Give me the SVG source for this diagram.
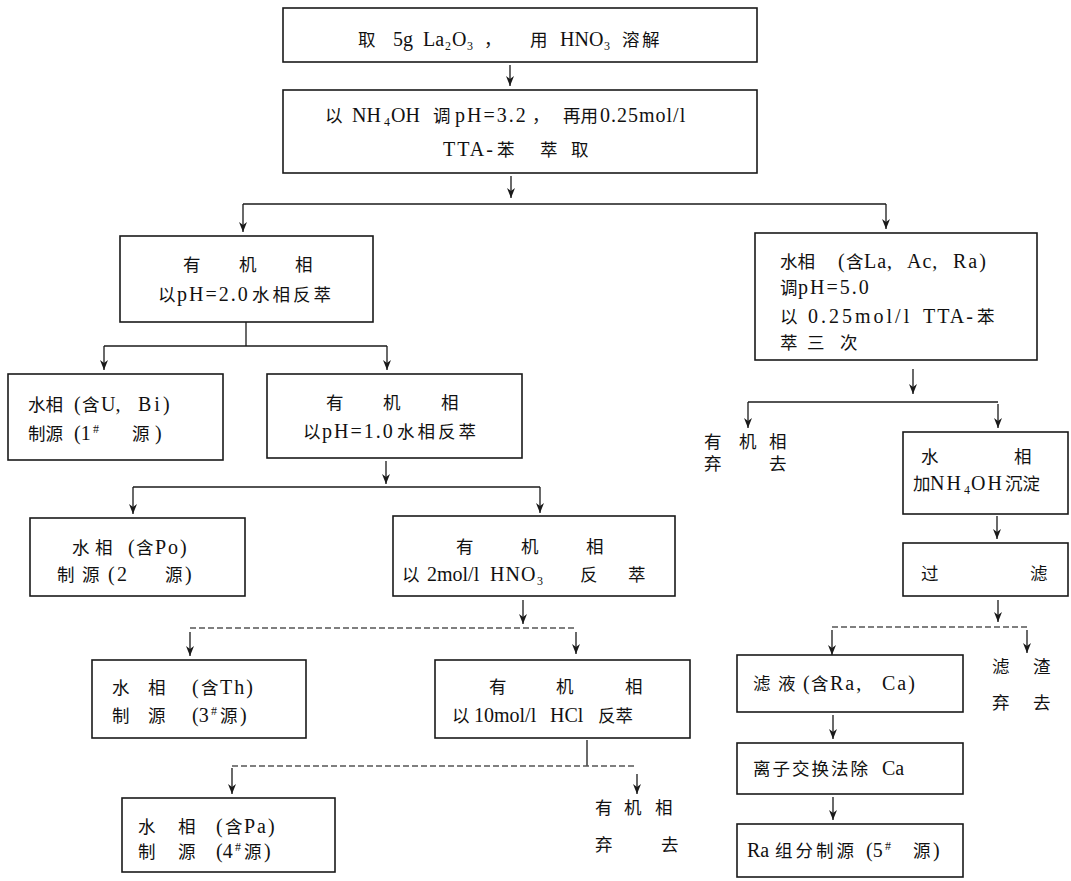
<svg xmlns="http://www.w3.org/2000/svg" width="1071" height="881" viewBox="0 0 1071 881">
<style>
.b{fill:none;stroke:#1a1a1a;stroke-width:1.6}
.c{fill:none;stroke:#1a1a1a;stroke-width:1.3}
.f{stroke:#555;stroke-dasharray:6 3}
text{font-family:"Liberation Serif","Noto Sans CJK SC",serif;font-size:17.5px;fill:#111;white-space:pre}
.L{font-size:20px}
.s{font-size:12px}
.w2{letter-spacing:2px}
.w3{letter-spacing:3px}
.w1{letter-spacing:1px}
</style>
<defs>
<marker id="ah" markerUnits="userSpaceOnUse" markerWidth="10" markerHeight="8" refX="10" refY="4" orient="auto">
<path d="M0,0 L10,4 L0,8 L3,4 z" fill="#1a1a1a"/>
</marker>
</defs>
<rect width="1071" height="881" fill="#ffffff"/>

<g id="connectors">
<line class="c" x1="510" y1="65" x2="510" y2="86" marker-end="url(#ah)"/>
<line class="c" x1="511" y1="176" x2="511" y2="198" marker-end="url(#ah)"/>
<line class="c" x1="243" y1="204" x2="886" y2="204"/>
<line class="c" x1="243" y1="204" x2="243" y2="232" marker-end="url(#ah)"/>
<line class="c" x1="886" y1="204" x2="886" y2="229" marker-end="url(#ah)"/>
<line class="c" x1="246" y1="322" x2="246" y2="346"/>
<line class="c" x1="104" y1="346" x2="387" y2="346"/>
<line class="c" x1="104" y1="346" x2="104" y2="370" marker-end="url(#ah)"/>
<line class="c" x1="387" y1="346" x2="387" y2="370" marker-end="url(#ah)"/>
<line class="c" x1="386" y1="461" x2="386" y2="484" marker-end="url(#ah)"/>
<line class="c" x1="133" y1="487" x2="540" y2="487"/>
<line class="c" x1="133" y1="487" x2="133" y2="514" marker-end="url(#ah)"/>
<line class="c" x1="540" y1="487" x2="540" y2="513" marker-end="url(#ah)"/>
<line class="c" x1="523" y1="600" x2="523" y2="624" marker-end="url(#ah)"/>
<line class="c f" x1="190" y1="628" x2="576" y2="628"/>
<line class="c" x1="190" y1="632" x2="190" y2="656" marker-end="url(#ah)"/>
<line class="c" x1="576" y1="632" x2="576" y2="654" marker-end="url(#ah)"/>
<line class="c" x1="587" y1="740" x2="587" y2="766"/>
<line class="c f" x1="232" y1="766" x2="637" y2="766"/>
<line class="c" x1="232" y1="768" x2="232" y2="794" marker-end="url(#ah)"/>
<line class="c" x1="637" y1="774" x2="637" y2="794" marker-end="url(#ah)"/>
<line class="c" x1="913" y1="369" x2="913" y2="394" marker-end="url(#ah)"/>
<line class="c" x1="748" y1="402" x2="998" y2="402"/>
<line class="c" x1="748" y1="402" x2="748" y2="428" marker-end="url(#ah)"/>
<line class="c" x1="998" y1="404" x2="998" y2="428" marker-end="url(#ah)"/>
<line class="c" x1="997" y1="516" x2="997" y2="539" marker-end="url(#ah)"/>
<line class="c" x1="998" y1="600" x2="998" y2="622" marker-end="url(#ah)"/>
<line class="c f" x1="832" y1="627" x2="1027" y2="627"/>
<line class="c" x1="832" y1="630" x2="832" y2="655" marker-end="url(#ah)"/>
<line class="c" x1="1027" y1="630" x2="1027" y2="653" marker-end="url(#ah)"/>
<line class="c" x1="833" y1="715" x2="833" y2="739" marker-end="url(#ah)"/>
<line class="c" x1="833" y1="797" x2="833" y2="820" marker-end="url(#ah)"/>
</g>

<g id="n1">
<rect class="b" x="283" y="8" width="474" height="54"/>
<text y="46"><tspan x="358">取</tspan><tspan class="L" x="393">5g</tspan><tspan class="L" x="423">La</tspan><tspan class="s" x="445" y="50">2</tspan><tspan class="L" x="452" y="46">O</tspan><tspan class="s" x="467" y="50">3</tspan><tspan x="484" y="46">，</tspan><tspan x="530">用</tspan><tspan class="L" x="560">HNO</tspan><tspan class="s" x="604" y="50">3</tspan><tspan x="622" y="46">溶</tspan><tspan x="642">解</tspan></text>
</g>

<g id="n2">
<rect class="b" x="283" y="90" width="474" height="83"/>
<text y="122"><tspan x="325">以</tspan><tspan class="L" x="352">NH</tspan><tspan class="s" x="384" y="126">4</tspan><tspan class="L" x="391" y="122">OH</tspan><tspan x="433">调</tspan><tspan class="L w2" x="455">pH=3.2</tspan><tspan x="532">，</tspan><tspan x="563">再用</tspan><tspan class="L w1" x="600">0.25mol/l</tspan></text>
<text y="156"><tspan class="L w2" x="443">TTA-</tspan><tspan x="497">苯</tspan><tspan x="540">萃</tspan><tspan x="571">取</tspan></text>
</g>

<g id="n3">
<rect class="b" x="120" y="236" width="253" height="86"/>
<text y="271"><tspan x="183">有</tspan><tspan x="239">机</tspan><tspan x="295">相</tspan></text>
<text y="301"><tspan x="158">以</tspan><tspan class="L w2" x="177">pH=2.0</tspan><tspan class="w3" x="252">水相反萃</tspan></text>
</g>

<g id="n4">
<rect class="b" x="8" y="374" width="215" height="86"/>
<text y="411"><tspan x="28">水相</tspan><tspan class="L" x="74">(</tspan><tspan x="82">含</tspan><tspan class="L" x="101">U,</tspan><tspan class="L w3" x="138">Bi)</tspan></text>
<text y="440"><tspan x="28">制源</tspan><tspan class="L" x="74">(1</tspan><tspan class="s" x="93" y="433">#</tspan><tspan x="132" y="440">源</tspan><tspan class="L" x="155">)</tspan></text>
</g>

<g id="n5">
<rect class="b" x="267" y="374" width="255" height="84"/>
<text y="409"><tspan x="326">有</tspan><tspan x="383">机</tspan><tspan x="441">相</tspan></text>
<text y="438"><tspan x="303">以</tspan><tspan class="L w2" x="322">pH=1.0</tspan><tspan class="w3" x="397">水相反萃</tspan></text>
</g>

<g id="n6">
<rect class="b" x="30" y="518" width="215" height="78"/>
<text y="554"><tspan x="72">水</tspan><tspan x="95">相</tspan><tspan class="L" x="128">(</tspan><tspan x="136">含</tspan><tspan class="L w2" x="155">Po)</tspan></text>
<text y="581"><tspan x="57">制</tspan><tspan x="82">源</tspan><tspan class="L" x="108">(</tspan><tspan class="L" x="117">2</tspan><tspan x="165">源</tspan><tspan class="L" x="185">)</tspan></text>
</g>

<g id="n7">
<rect class="b" x="393" y="516" width="282" height="80"/>
<text y="553"><tspan x="456">有</tspan><tspan x="521">机</tspan><tspan x="586">相</tspan></text>
<text y="581"><tspan x="402">以</tspan><tspan class="L" x="427">2mol/l</tspan><tspan class="L w1" x="490">HNO</tspan><tspan class="s" x="537" y="585">3</tspan><tspan x="580" y="581">反</tspan><tspan x="628">萃</tspan></text>
</g>

<g id="n8">
<rect class="b" x="92" y="660" width="214" height="78"/>
<text y="694"><tspan x="112">水</tspan><tspan x="148">相</tspan><tspan class="L" x="192">(</tspan><tspan x="201">含</tspan><tspan class="L w2" x="220">Th)</tspan></text>
<text y="722"><tspan x="112">制</tspan><tspan x="148">源</tspan><tspan class="L" x="192">(3</tspan><tspan class="s" x="211" y="715">#</tspan><tspan x="220" y="722">源</tspan><tspan class="L" x="240">)</tspan></text>
</g>

<g id="n9">
<rect class="b" x="435" y="660" width="255" height="78"/>
<text y="693"><tspan x="489">有</tspan><tspan x="556">机</tspan><tspan x="625">相</tspan></text>
<text y="722"><tspan x="452">以</tspan><tspan class="L" x="474">10mol/l</tspan><tspan class="L" x="550">HCl</tspan><tspan x="598">反萃</tspan></text>
</g>

<g id="n10">
<rect class="b" x="122" y="798" width="213" height="74"/>
<text y="833"><tspan x="138">水</tspan><tspan x="178">相</tspan><tspan class="L" x="216">(</tspan><tspan x="225">含</tspan><tspan class="L w2" x="244">Pa)</tspan></text>
<text y="858"><tspan x="138">制</tspan><tspan x="178">源</tspan><tspan class="L" x="216">(4</tspan><tspan class="s" x="235" y="851">#</tspan><tspan x="244" y="858">源</tspan><tspan class="L" x="264">)</tspan></text>
</g>

<g id="n11">
<text y="814"><tspan x="595">有</tspan><tspan x="624">机</tspan><tspan x="655">相</tspan></text>
<text y="851"><tspan x="595">弃</tspan><tspan x="661">去</tspan></text>
</g>

<g id="n12">
<rect class="b" x="755" y="233" width="282" height="127"/>
<text y="268"><tspan x="780">水相</tspan><tspan class="L" x="838">(</tspan><tspan x="846">含</tspan><tspan class="L w1" x="864">La,</tspan><tspan class="L w1" x="907">Ac,</tspan><tspan class="L w2" x="953">Ra)</tspan></text>
<text y="294"><tspan x="780">调</tspan><tspan class="L w2" x="798">pH=5.0</tspan></text>
<text y="323"><tspan x="780">以</tspan><tspan class="L w3" x="808">0.25mol/l</tspan><tspan class="L w2" x="923">TTA-</tspan><tspan x="977">苯</tspan></text>
<text y="349"><tspan x="780">萃</tspan><tspan x="807">三</tspan><tspan x="840">次</tspan></text>
</g>

<g id="n13">
<text y="448"><tspan x="704">有</tspan><tspan x="739">机</tspan><tspan x="769">相</tspan></text>
<text y="470"><tspan x="704">弃</tspan><tspan x="769">去</tspan></text>
</g>

<g id="n14">
<rect class="b" x="903" y="432" width="165" height="82"/>
<text y="463"><tspan x="921">水</tspan><tspan x="1014">相</tspan></text>
<text y="490"><tspan x="913">加</tspan><tspan class="L w2" x="930">NH</tspan><tspan class="s" x="964" y="494">4</tspan><tspan class="L w2" x="971" y="490">OH</tspan><tspan x="1005">沉淀</tspan></text>
</g>

<g id="n15">
<rect class="b" x="903" y="543" width="165" height="53"/>
<text y="580"><tspan x="921">过</tspan><tspan x="1030">滤</tspan></text>
</g>

<g id="n16">
<text y="673"><tspan x="992">滤</tspan><tspan x="1033">渣</tspan></text>
<text y="709"><tspan x="992">弃</tspan><tspan x="1033">去</tspan></text>
</g>

<g id="n17">
<rect class="b" x="737" y="655" width="226" height="57"/>
<text y="690"><tspan x="753">滤</tspan><tspan x="778">液</tspan><tspan class="L" x="803">(</tspan><tspan x="811">含</tspan><tspan class="L w2" x="830">Ra,</tspan><tspan class="L w2" x="882">Ca)</tspan></text>
</g>

<g id="n18">
<rect class="b" x="737" y="743" width="226" height="51"/>
<text y="775"><tspan class="w2" x="753">离子交换法除</tspan><tspan class="L" x="882">Ca</tspan></text>
</g>

<g id="n19">
<rect class="b" x="737" y="824" width="226" height="53"/>
<text y="857"><tspan class="L" x="747">Ra</tspan><tspan class="w3" x="775">组分制源</tspan><tspan class="L" x="866">(5</tspan><tspan class="s" x="885" y="850">#</tspan><tspan x="913" y="857">源</tspan><tspan class="L" x="933">)</tspan></text>
</g>
</svg>
